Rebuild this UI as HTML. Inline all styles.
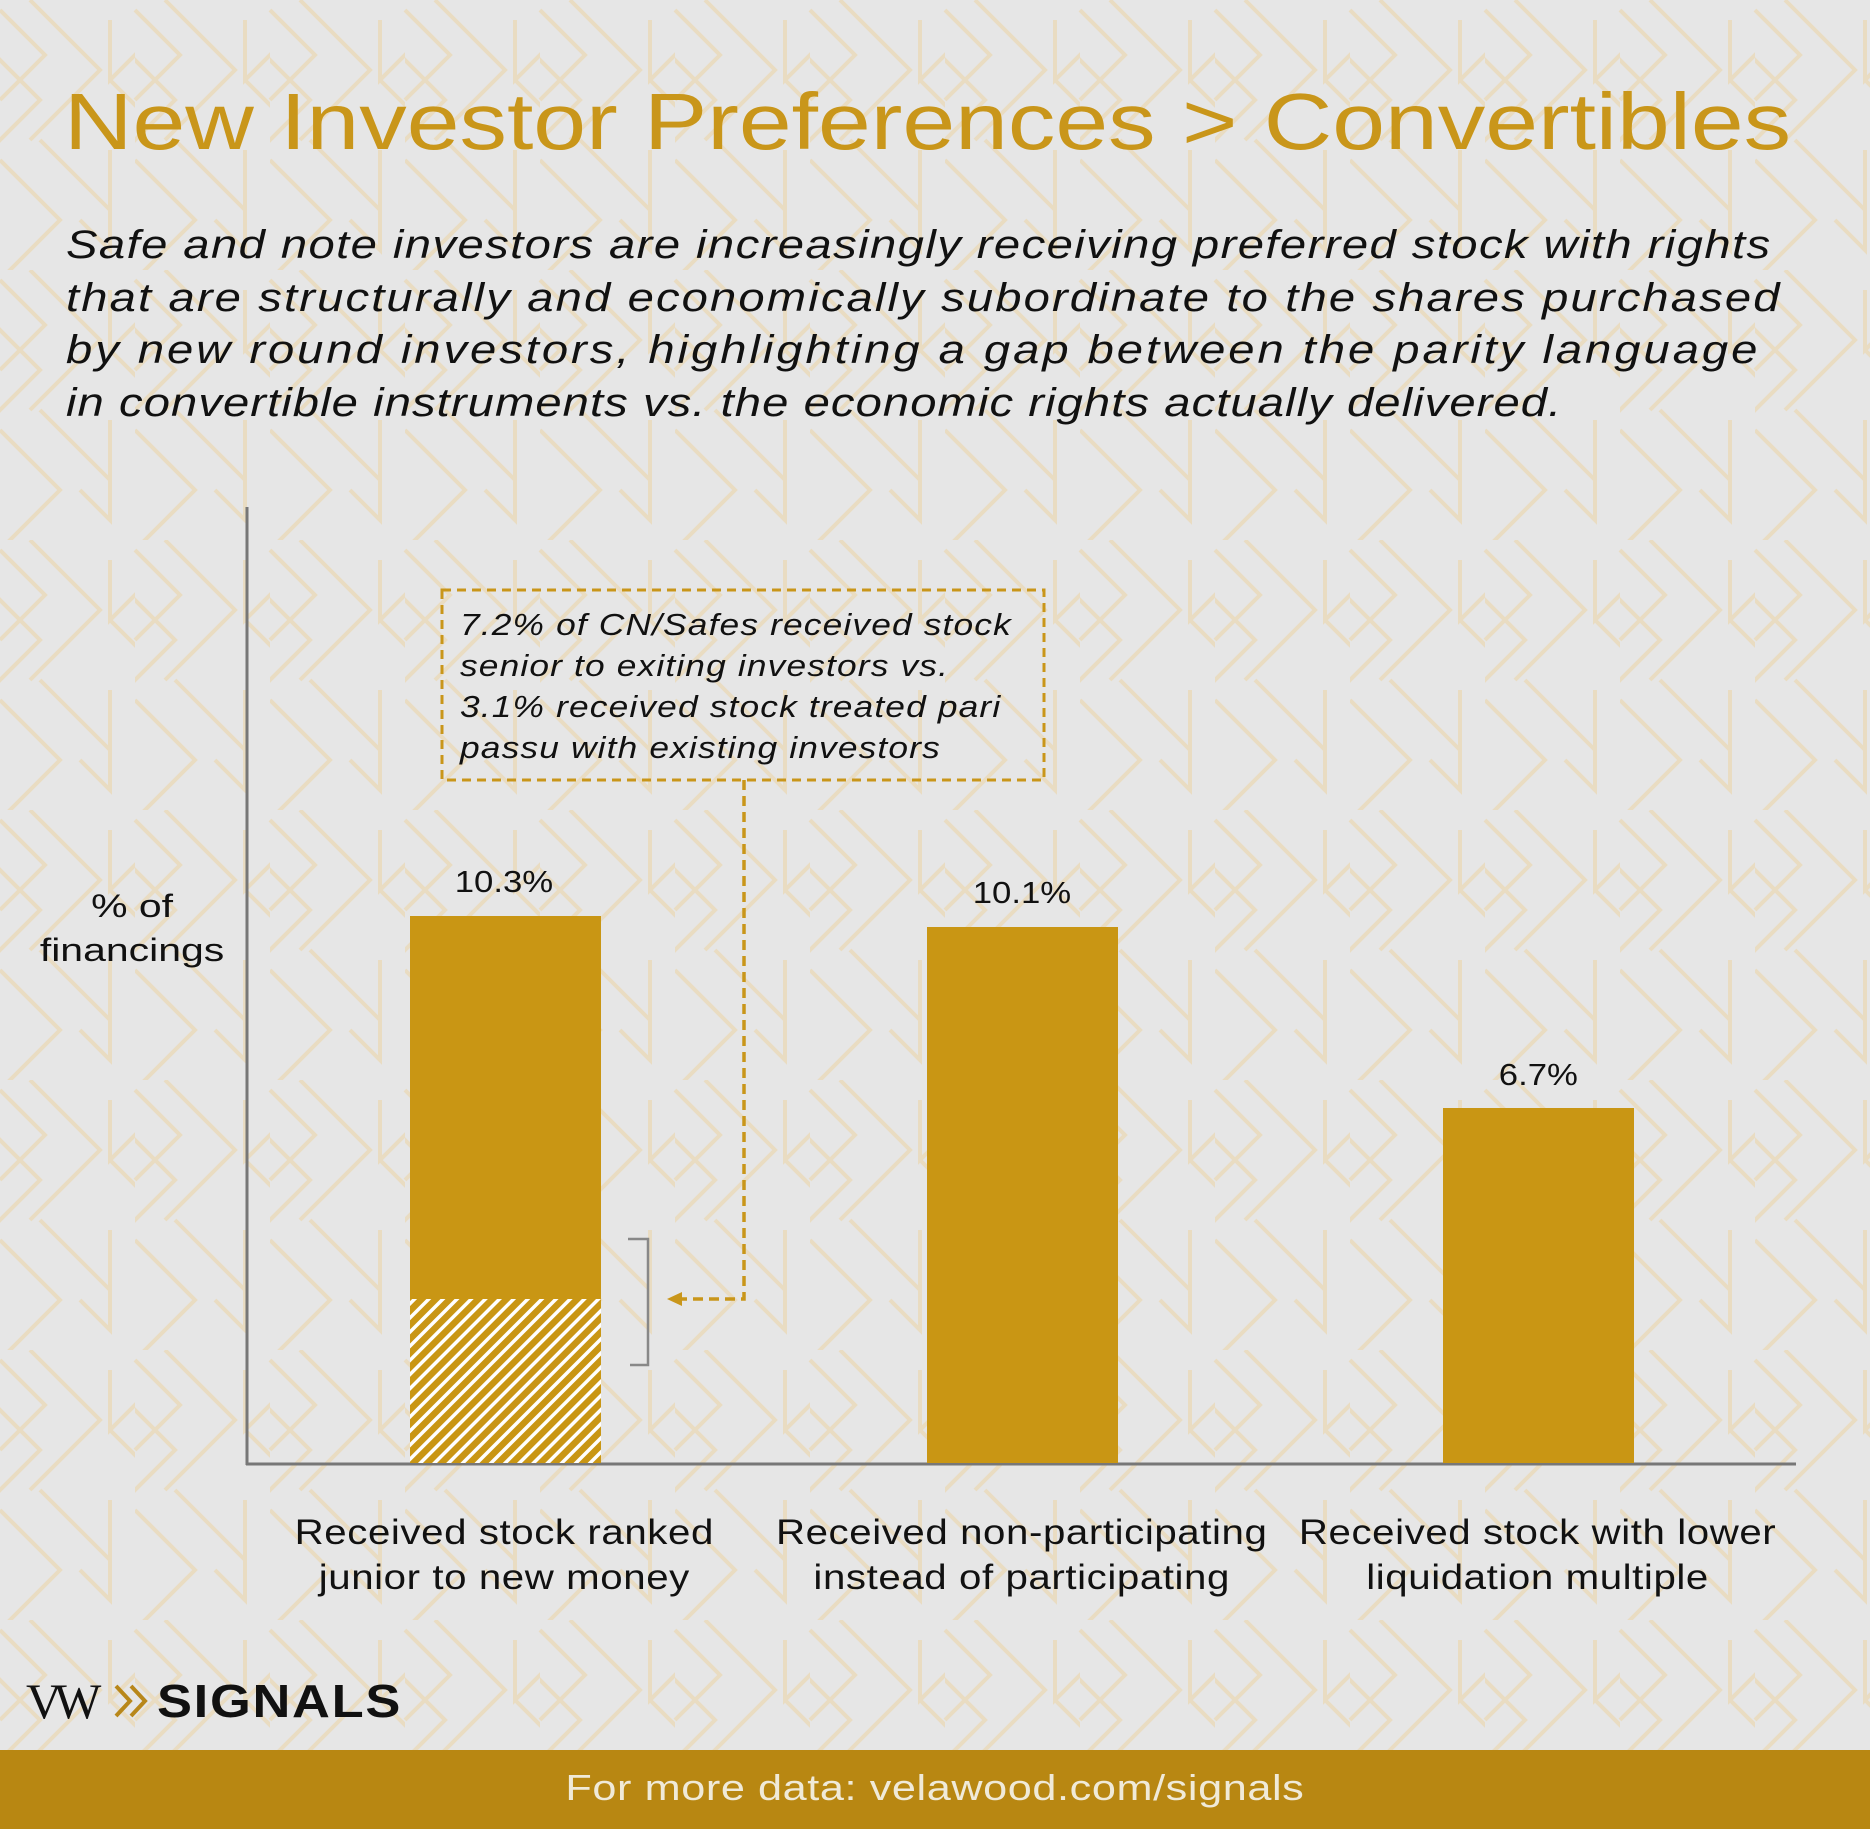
<!DOCTYPE html>
<html><head><meta charset="utf-8"><style>
html,body{margin:0;padding:0}
body{width:1870px;height:1829px;position:relative;overflow:hidden;background:#e6e6e6;font-family:"Liberation Sans",sans-serif}
.t{position:absolute;white-space:nowrap}
.c{text-align:center}
.c span{display:inline-block}
</style></head><body>
<svg width="1870" height="1829" style="position:absolute;left:0;top:0">
<defs>
<pattern id="bg" width="135" height="270" patternUnits="userSpaceOnUse">
<g fill="none" stroke="#e9dcc2" stroke-width="4">
<path d="M0 10 L45 55 L0 100"/><path d="M-10 50 L40 100 L-10 150"/>
<path d="M110 20 L110 80 L150 40"/><path d="M110 80 L175 145"/>
<path d="M30 0 L100 70 L30 140"/><path d="M110 150 L110 250 L80 220"/>
<path d="M0 160 L60 220 L0 280"/><path d="M40 140 L110 210"/>
<path d="M135 10 L180 55 L135 100"/><path d="M-25 80 L-25 140"/>
</g></pattern>
<pattern id="hatch" width="10" height="10" patternUnits="userSpaceOnUse" patternTransform="rotate(45)">
<rect width="10" height="10" fill="#c99614"/><rect width="3.5" height="10" fill="#fff"/>
</pattern>
</defs>
<rect width="1870" height="1750" fill="url(#bg)"/>
<rect x="0" y="1750" width="1870" height="79" fill="#b88712"/>
<line x1="247" y1="507" x2="247" y2="1465" stroke="#777" stroke-width="3"/>
<line x1="246" y1="1464" x2="1796" y2="1464" stroke="#777" stroke-width="3"/>
<rect x="410" y="916" width="191" height="383" fill="#c99614"/>
<rect x="410" y="1299" width="191" height="164" fill="url(#hatch)"/>
<rect x="927" y="927" width="191" height="536" fill="#c99614"/>
<rect x="1443" y="1108" width="191" height="355" fill="#c99614"/>
<path d="M628 1239 L648 1239 L648 1365 L630 1365" fill="none" stroke="#888" stroke-width="2.5"/>
<rect x="442" y="590" width="602" height="190" fill="none" stroke="#c9961a" stroke-width="3" stroke-dasharray="9 6"/>
<path d="M744 780 L744 1299 L680 1299" fill="none" stroke="#c9961a" stroke-width="3.5" stroke-dasharray="10 6"/>
<path d="M667 1299 L682 1292 L682 1306 Z" fill="#c9961a"/>
<path d="M116 1686 L130 1701 L116 1716 M131 1686 L145 1701 L131 1716" fill="none" stroke="#b8871a" stroke-width="4"/>
</svg>
<div class="t" style="left:64px;top:76px;font-size:80px;color:#c9961a;transform:scaleX(1.186);transform-origin:left">New Investor Preferences &gt; Convertibles</div>
<div class="t" style="left:66px;top:219px;font-size:40px;line-height:52.5px;font-style:italic;color:#111;letter-spacing:1.2px;transform:scaleX(1.18);transform-origin:left">Safe and note investors are increasingly receiving preferred stock with rights<br><span style="letter-spacing:1.8px">that are structurally and economically subordinate to the shares purchased</span><br><span style="letter-spacing:2.5px">by new round investors, highlighting a gap between the parity language</span><br><span style="letter-spacing:0.9px">in convertible instruments vs. the economic rights actually delivered.</span></div>
<div class="t" style="left:460px;top:604px;font-size:31px;line-height:41px;font-style:italic;color:#111;letter-spacing:1px;transform:scaleX(1.14);transform-origin:left">7.2% of CN/Safes received stock<br>senior to exiting investors vs.<br>3.1% received stock treated pari<br>passu with existing investors</div>
<div class="t c" style="left:32px;top:884px;width:200px;font-size:32px;line-height:44px;color:#111"><span style="transform:scaleX(1.28)">% of<br>financings</span></div>
<div class="t c" style="left:404px;top:864px;width:200px;font-size:31px;color:#111"><span style="transform:scaleX(1.12)">10.3%</span></div>
<div class="t c" style="left:922px;top:875px;width:200px;font-size:31px;color:#111"><span style="transform:scaleX(1.12)">10.1%</span></div>
<div class="t c" style="left:1438px;top:1057px;width:200px;font-size:31px;color:#111"><span style="transform:scaleX(1.12)">6.7%</span></div>
<div class="t c" style="left:254px;top:1510px;width:500px;font-size:35px;line-height:45px;color:#111;letter-spacing:0.5px"><span style="transform:scaleX(1.15)">Received stock ranked<br>junior to new money</span></div>
<div class="t c" style="left:722px;top:1510px;width:600px;font-size:35px;line-height:45px;color:#111;letter-spacing:0.5px"><span style="transform:scaleX(1.15)">Received non-participating<br>instead of participating</span></div>
<div class="t c" style="left:1238px;top:1510px;width:600px;font-size:35px;line-height:45px;color:#111;letter-spacing:0.5px"><span style="transform:scaleX(1.15)">Received stock with lower<br>liquidation multiple</span></div>
<div class="t" style="left:26px;top:1672px;font-family:'Liberation Serif',serif;font-size:50px;color:#111;letter-spacing:-8px">VW</div>
<div class="t" style="left:157px;top:1674px;font-size:46px;font-weight:bold;color:#111;letter-spacing:1.5px;transform:scaleX(1.14);transform-origin:left">SIGNALS</div>
<div class="t c" style="left:0;top:1767px;width:1870px;font-size:36px;color:#f0ead8;letter-spacing:0.5px"><span style="transform:scaleX(1.2)">For more data: velawood.com/signals</span></div>
</body></html>
